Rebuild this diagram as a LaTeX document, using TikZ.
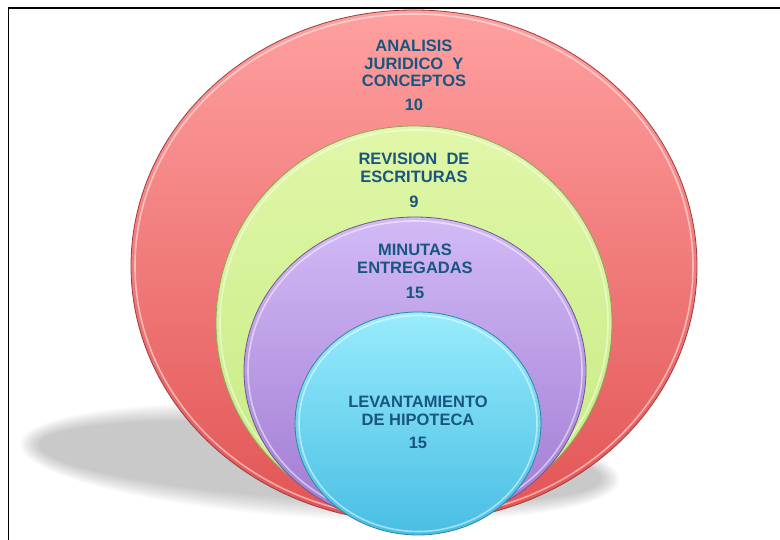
\documentclass[tikz,border=0pt]{standalone}
\usepackage{fontspec}
\setmainfont{Liberation Sans}
\usetikzlibrary{positioning,shapes.geometric}
\definecolor{rosaclaro}{RGB}{255,160,160}
\definecolor{rojo}{RGB}{226,84,84}
\definecolor{verdeclaro}{RGB}{224,247,168}
\definecolor{verde}{RGB}{198,234,130}
\definecolor{lilaclaro}{RGB}{210,186,246}
\definecolor{lila}{RGB}{160,122,210}
\definecolor{cielo}{RGB}{152,236,252}
\definecolor{celeste}{RGB}{72,190,228}
\definecolor{tinta}{RGB}{24,86,128}
\tikzset{
  anillo/.style 2 args={
    ellipse,
    inner sep=0pt,
    outer sep=0pt,
    top color=#1,
    bottom color=#2,
    draw=#2!70!black,
    line width=0.8pt
  },
  brillo/.style={
    white,
    opacity=0.5,
    line width=1.6pt
  },
  rotulo/.style={
    align=center,
    inner sep=0pt,
    text=tinta,
    font=\bfseries\fontsize{16.5}{17.5}\selectfont
  }
}

\begin{document}
\begin{tikzpicture}[x=1pt,y=1pt]
\useasboundingbox (0,0) rectangle (780,540);
% marco
\draw[line width=1.6pt] (8.5,0) -- (8.5,532) -- (780,532);
% sombra
\begin{scope}[shift={(320,78)},rotate=-3.5]
  \foreach \k in {0,...,9}
    \fill[black,opacity=0.025] (0,0) ellipse [x radius=282+2*\k, y radius=38+2*\k];
\end{scope}
% elipses
\node[anillo={rosaclaro}{rojo}, minimum width=566pt, minimum height=512pt] (analisis) at (414,274) {};
\draw[brillo] (analisis.center) ellipse [x radius=279, y radius=252];
\node[anillo={verdeclaro}{verde}, minimum width=396pt, minimum height=394pt] (revision) at (414,217) {};
\draw[brillo] (revision.center) ellipse [x radius=194, y radius=193];
\node[anillo={lilaclaro}{lila}, minimum width=342pt, minimum height=308pt] (minutas) at (415,169) {};
\draw[brillo] (minutas.center) ellipse [x radius=167, y radius=150];
\node[anillo={cielo}{celeste}, minimum width=246pt, minimum height=223pt] (levantamiento) at (418,116.5) {};
\draw[brillo] (levantamiento.center) ellipse [x radius=119, y radius=108];
% textos
\node[rotulo, below=30pt of analisis.north] (t-analisis) {ANALISIS\\JURIDICO~~Y\\CONCEPTOS\\[6.5pt]10};
\node[rotulo, below=27pt of revision.north] (t-revision) {REVISION~~DE\\ESCRITURAS\\[7.5pt]9};
\node[rotulo, below=27pt of minutas.north] (t-minutas) {MINUTAS\\ENTREGADAS\\[7.5pt]15};
\node[rotulo, below=84pt of levantamiento.north] (t-levantamiento) {LEVANTAMIENTO\\DE HIPOTECA\\[5.5pt]15};
\end{tikzpicture}
\end{document}
